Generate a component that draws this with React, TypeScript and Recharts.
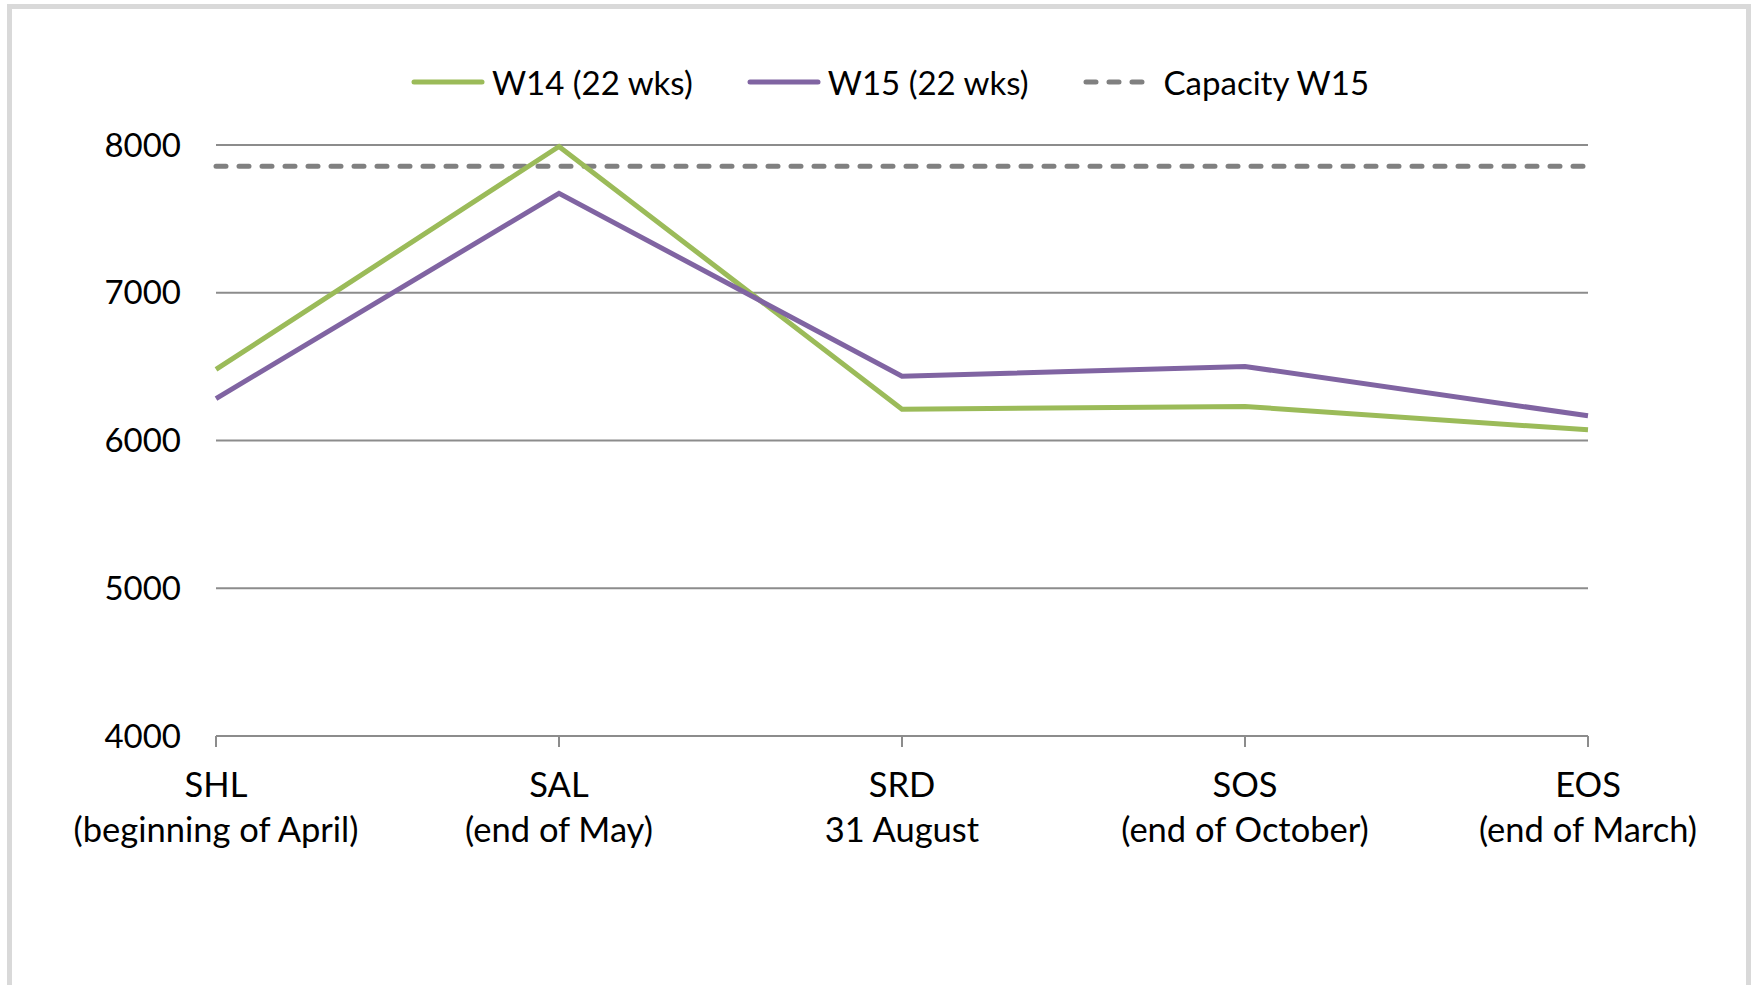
import React from 'react';
import { LineChart, Line, XAxis, YAxis, CartesianGrid, Legend } from 'recharts';

const categories = ['SHL', 'SAL', 'SRD', 'SOS', 'EOS'];
const subLabels = ['(beginning of April)', '(end of May)', '31 August', '(end of October)', '(end of March)'];
const w14 = [6481, 7990, 6212, 6230, 6072];
const w15 = [6284, 7673, 6435, 6501, 6167];
const capacity = [7856, 7856, 7856, 7856, 7856];
const yTicks = [4000, 5000, 6000, 7000, 8000];

const data = categories.map((c, i) => ({
  name: c,
  sub: subLabels[i],
  w14: w14[i],
  w15: w15[i],
  cap: capacity[i],
}));

const FONT = 'Lato, "Open Sans", sans-serif';

const XTick = (props: any) => {
  const { x, y, payload } = props;
  const sub = subLabels[categories.indexOf(payload.value)] ?? '';
  return (
    <g transform={`translate(${x},${y})`}>
      <text textAnchor="middle" fill="#000" fontSize={34.5} fontFamily={FONT}>
        <tspan x={0} dy={50}>{payload.value}</tspan>
        <tspan x={0} dy={45}>{sub}</tspan>
      </text>
    </g>
  );
};

const legendItems = [
  { label: 'W14 (22 wks)', color: '#9bbb59', dash: undefined as string | undefined },
  { label: 'W15 (22 wks)', color: '#8064a2', dash: undefined as string | undefined },
  { label: 'Capacity W15', color: '#808080', dash: '10 13' },
];

const LegendContent = () => (
  <div style={{ display: 'flex', justifyContent: 'center', alignItems: 'center', height: 44, fontFamily: FONT, fontSize: 33, color: '#000' }}>
    {legendItems.map((it, i) => (
      <div key={i} style={{ display: 'flex', alignItems: 'center', marginRight: i < legendItems.length - 1 ? 54 : 0 }}>
        <svg width={74} height={10} style={{ marginRight: 7 }}>
          <line x1={3} y1={5} x2={71} y2={5} stroke={it.color} strokeWidth={5} strokeLinecap="round" strokeDasharray={it.dash} />
        </svg>
        <span>{it.label}</span>
      </div>
    ))}
  </div>
);

export default function App() {
  return (
    <div style={{ position: 'absolute', left: 0, top: 0, width: 1754, height: 985, background: '#fff', overflow: 'hidden' }}>
      <div style={{ position: 'absolute', left: 7, top: 4, width: 1734, height: 1100, border: '5px solid #d9d9d9', boxSizing: 'content-box' }} />
      <div style={{ position: 'absolute', left: 0, top: 0 }}>
        <LineChart width={1754} height={985} data={data} margin={{ top: 101, right: 166, bottom: 0, left: 0 }}>
          <CartesianGrid vertical={false} stroke="#8c8c8c" strokeWidth={2} />
          <XAxis
            dataKey="name"
            interval={0}
            tick={<XTick />}
            tickSize={11}
            tickMargin={0}
            axisLine={{ stroke: '#8c8c8c', strokeWidth: 2 }}
            tickLine={{ stroke: '#8c8c8c', strokeWidth: 2 }}
            height={249}
          />
          <YAxis
            domain={[4000, 8000]}
            ticks={yTicks}
            width={216}
            axisLine={false}
            tickLine={false}
            tickSize={0}
            tickMargin={35}
            tick={{ fill: '#000', fontSize: 33, fontFamily: FONT }}
          />
          <Legend verticalAlign="top" align="center" content={<LegendContent />} wrapperStyle={{ top: 60, left: 96 }} />
          <Line dataKey="cap" stroke="#808080" strokeWidth={5} strokeDasharray="10 13" strokeLinecap="round" dot={false} isAnimationActive={false} />
          <Line dataKey="w14" stroke="#9bbb59" strokeWidth={5} dot={false} isAnimationActive={false} />
          <Line dataKey="w15" stroke="#8064a2" strokeWidth={5} dot={false} isAnimationActive={false} />
        </LineChart>
      </div>
    </div>
  );
}
